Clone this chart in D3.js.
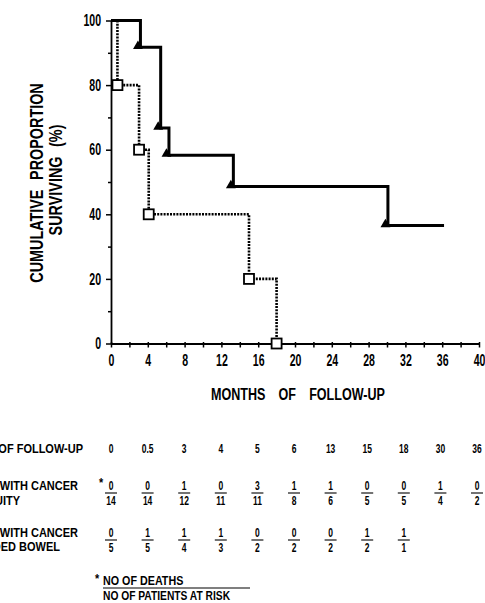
<!DOCTYPE html>
<html>
<head>
<meta charset="utf-8">
<script src="https://cdn.jsdelivr.net/npm/d3@7"></script>
<style>
  body { margin: 0; background: #fff; }
  svg { display: block; font-family: "Liberation Sans", Arial, sans-serif; }
  text { fill: #000; }
</style>
</head>
<body>
<script>
// survival curves (months, % surviving)
let contMonths = [0, 3.2, 5.4, 6.3, 13.3, 30.1, 36.2];
let contSurv = [100, 91.7, 66.7, 58.3, 48.6, 36.5, 36.5];
let exclMonths = [0, 0.7, 3.05, 4.1, 15, 18];
let exclSurv = [100, 80, 60, 40, 20, 0];

let xTickValues = [0, 4, 8, 12, 16, 20, 24, 28, 32, 36, 40];
let xMinorTicks = [2, 6, 10, 14, 18, 22, 26, 30, 34, 38];
let yTickValues = [0, 20, 40, 60, 80, 100];
let yMinorTicks = [10, 30, 50, 70, 90];

// life table under the chart
let tableMonths = ["0", "0.5", "3", "4", "5", "6", "13", "15", "18", "30", "36"];
let contDeaths = [0, 0, 1, 0, 3, 1, 1, 0, 0, 1, 0];
let contAtRisk = [14, 14, 12, 11, 11, 8, 6, 5, 5, 4, 2];
let exclDeaths = [0, 1, 1, 1, 0, 0, 0, 1, 1];
let exclAtRisk = [5, 5, 4, 3, 2, 2, 2, 2, 1];

var width = 485, height = 603;

var svg = d3.select("body").append("svg")
    .attr("width", width)
    .attr("height", height);

var xScale = d3.scaleLinear().domain([0, 40]).range([111, 479]);
var yScale = d3.scaleLinear().domain([0, 100]).range([343.5, 20.5]);

// condensed text: the original uses a narrow helvetica
function ctext(g, x, y, str, size, sx, anchor, weight, rot) {
  return g.append("text")
    .attr("transform", "translate(" + x + "," + y + ")" + (rot ? " rotate(" + rot + ")" : "") + " scale(" + sx + ",1)")
    .attr("text-anchor", anchor || "middle")
    .style("font-size", size + "px")
    .style("font-weight", weight || "normal")
    .text(str);
}

// axes
var tickSx = 0.66;

var xAxis = svg.append("g")
    .attr("transform", "translate(0," + yScale(0) + ")")
    .call(d3.axisBottom(xScale).tickValues(xTickValues).tickSize(4).tickSizeOuter(0).tickPadding(7));
xAxis.selectAll("text")
    .attr("transform", "scale(" + tickSx + ",1)")
    .style("font-size", "16px").style("font-weight", "bold")
    .style("font-family", "Liberation Sans, Arial, sans-serif");

svg.append("g")
    .attr("transform", "translate(0," + yScale(0) + ")")
    .call(d3.axisBottom(xScale).tickValues(xMinorTicks).tickSize(4).tickSizeOuter(0).tickFormat(""))
    .select(".domain").remove();

var yAxis = svg.append("g")
    .attr("transform", "translate(" + xScale(0) + ",0)")
    .call(d3.axisLeft(yScale).tickValues(yTickValues).tickSize(5).tickSizeOuter(0).tickPadding(5));
yAxis.selectAll("text")
    .attr("x", -10 / tickSx)
    .attr("transform", "scale(" + tickSx + ",1)")
    .style("font-size", "16px").style("font-weight", "bold")
    .style("font-family", "Liberation Sans, Arial, sans-serif");

svg.append("g")
    .attr("transform", "translate(" + xScale(0) + ",0)")
    .call(d3.axisLeft(yScale).tickValues(yMinorTicks).tickSize(3).tickSizeOuter(0).tickFormat(""))
    .select(".domain").remove();

svg.selectAll(".domain").attr("stroke-width", 1.8);
svg.selectAll(".tick line").attr("stroke-width", 1.5).attr("y1", function() {
  return d3.select(this).attr("y2") ? -1.5 : null;
});

// curves
var line = d3.line()
    .x(function(d) { return xScale(d[0]); })
    .y(function(d) { return yScale(d[1]); })
    .curve(d3.curveStepAfter);

var contPts = contMonths.map(function(m, i) { return [m, contSurv[i]]; });
var exclPts = exclMonths.map(function(m, i) { return [m, exclSurv[i]]; });

svg.append("path")
    .datum(exclPts)
    .attr("d", line)
    .attr("fill", "none")
    .attr("stroke", "#000")
    .attr("stroke-width", 2.6)
    .attr("stroke-dasharray", "2,1.2");

svg.append("path")
    .datum(contPts)
    .attr("d", line)
    .attr("fill", "none")
    .attr("stroke", "#000")
    .attr("stroke-width", 3);

// filled triangles at each step of the solid curve
svg.selectAll(".tri")
    .data(contPts.slice(1, -1))
    .enter()
    .append("path")
    .attr("class", "tri")
    .attr("d", d3.symbol(d3.symbolTriangle, 42))
    .attr("transform", function(d) {
      return "translate(" + (xScale(d[0]) - 2.5) + "," + (yScale(d[1]) - 1.2) + ")";
    })
    .attr("fill", "#000");

// open squares at each step of the dotted curve
svg.selectAll(".sq")
    .data(exclPts.slice(1))
    .enter()
    .append("rect")
    .attr("class", "sq")
    .attr("x", function(d) { return xScale(d[0]) - 5; })
    .attr("y", function(d) { return yScale(d[1]) - 5; })
    .attr("width", 10)
    .attr("height", 10)
    .attr("fill", "#fff")
    .attr("stroke", "#000")
    .attr("stroke-width", 1.8);

// titles
ctext(svg, 298, 400, "MONTHS OF FOLLOW-UP", 17, 0.74, "middle", "bold")
    .style("word-spacing", "13px");
ctext(svg, 43, 183, "CUMULATIVE PROPORTION", 18, 0.8, "middle", "bold", -90)
    .style("word-spacing", "7px");
ctext(svg, 62, 180, "SURVIVING (%)", 18, 0.8, "middle", "bold", -90)
    .style("word-spacing", "7px");

// table
var colScale = d3.scalePoint().domain(tableMonths).range([111, 477]);
var numSize = 12.5, numSx = 0.68;
var labSize = 12.5, labSx = 0.88;
var table = svg.append("g");

ctext(table, 83, 453, "MONTHS OF FOLLOW-UP", labSize, labSx, "end", "bold");
tableMonths.forEach(function(m) {
  ctext(table, colScale(m), 453, m, numSize, numSx, "middle", "bold");
});

ctext(table, 78, 490, "PATIENTS WITH CANCER", labSize, labSx, "end", "bold");
ctext(table, 20, 505, "IN CONTINUITY", labSize, labSx, "end", "bold");
ctext(table, 78, 537, "PATIENTS WITH CANCER", labSize, labSx, "end", "bold");
ctext(table, 60, 551, "IN EXCLUDED BOWEL", labSize, labSx, "end", "bold");

function fractions(deaths, atRisk, yNum) {
  deaths.forEach(function(d, i) {
    var cx = colScale(tableMonths[i]);
    ctext(table, cx, yNum, d, numSize, numSx, "middle", "bold");
    table.append("line")
      .attr("x1", cx - 6).attr("x2", cx + 6)
      .attr("y1", yNum + 3).attr("y2", yNum + 3)
      .attr("stroke", "#000").attr("stroke-width", 1.1);
    ctext(table, cx, yNum + 15, atRisk[i], numSize, numSx, "middle", "bold");
  });
}
fractions(contDeaths, contAtRisk, 490);
fractions(exclDeaths, exclAtRisk, 537);

ctext(table, colScale("0") - 10, 487, "*", 12, 0.9, "middle", "bold");

// footnote
ctext(table, 97, 583, "*", 12, 0.9, "middle", "bold");
ctext(table, 103, 585, "NO OF DEATHS", 12.5, 0.86, "start", "bold");
table.append("line")
    .attr("x1", 103).attr("x2", 250)
    .attr("y1", 588).attr("y2", 588)
    .attr("stroke", "#000").attr("stroke-width", 1.1);
ctext(table, 103, 600, "NO OF PATIENTS AT RISK", 12.5, 0.82, "start", "bold");
</script>
</body>
</html>
